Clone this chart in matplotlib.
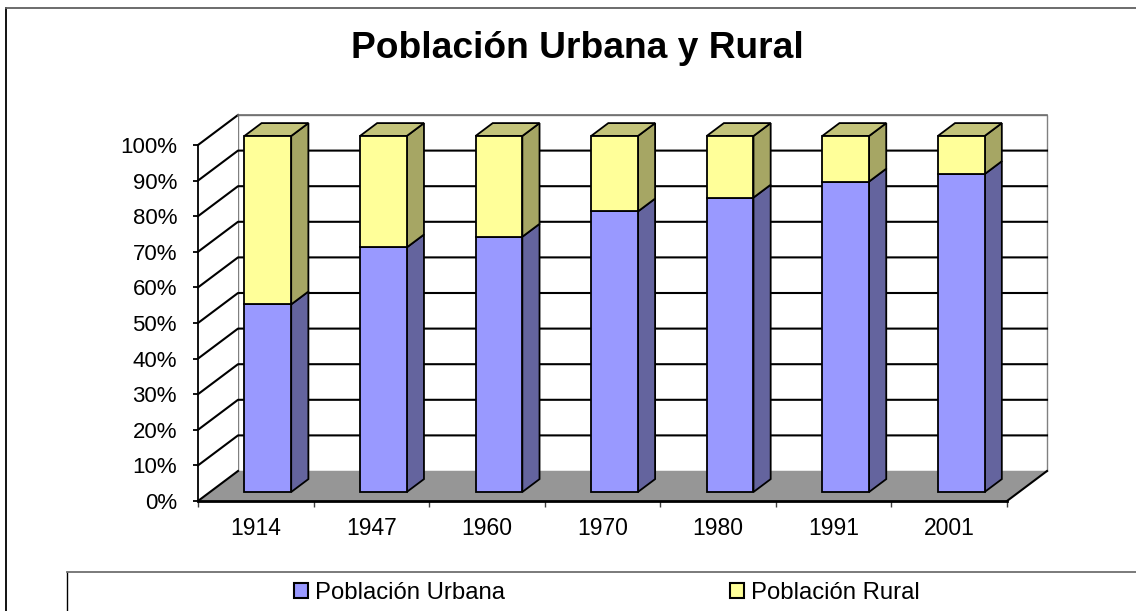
import matplotlib
matplotlib.use('Agg')
import matplotlib.pyplot as plt
from matplotlib.patches import Polygon, Patch
from matplotlib.lines import Line2D

# ---------------- data ----------------
years = ['1914', '1947', '1960', '1970', '1980', '1991', '2001']
urbana = [52.7, 68.7, 71.7, 78.8, 82.7, 87.2, 89.3]
rural = [47.3, 31.3, 28.3, 21.2, 17.3, 12.8, 10.7]
y_ticks = [0, 10, 20, 30, 40, 50, 60, 70, 80, 90, 100]
y_labels = ['0%', '10%', '20%', '30%', '40%', '50%', '60%', '70%', '80%', '90%', '100%']
title = 'Población Urbana y Rural'
series_names = ['Población Urbana', 'Población Rural']

# ---------------- style ----------------
plt.rcParams['font.family'] = ['Liberation Sans', 'DejaVu Sans']
URB_FRONT, URB_SIDE = '#9999FF', '#64649E'
RUR_FRONT, RUR_SIDE, RUR_TOP = '#FFFF99', '#A6A664', '#C3C37A'
FLOOR = '#969696'

W, H = 1136, 611
fig = plt.figure(figsize=(W / 100, H / 100), dpi=100)
fig.patch.set_facecolor('white')

# front plane of the 3D box
ax = fig.add_axes([198 / W, (H - 501) / H, 809 / W, 356 / H])
n = len(years)
ax.set_xlim(0, n)
ax.set_ylim(0, 100)
ax.patch.set_visible(False)
for s in ['top', 'right']:
    ax.spines[s].set_visible(False)
ax.spines['left'].set_linewidth(1.3)
ax.spines['bottom'].set_linewidth(2.0)
ax.spines['left'].set_zorder(6)
ax.spines['bottom'].set_zorder(6)

# depth offsets (in data units)
DX = 40 / (809 / n)
DY = 30 / 3.56
D0, D1 = 0.30, 0.73
BW = 0.405

# back wall and left wall
ax.add_patch(Polygon([(DX, DY), (n + DX, DY), (n + DX, 100 + DY), (DX, 100 + DY)],
                     closed=True, facecolor='white', edgecolor='#808080', lw=1.0,
                     clip_on=False, zorder=0))
ax.add_patch(Polygon([(0, 0), (DX, DY), (DX, 100 + DY), (0, 100)], closed=True,
                     facecolor='white', edgecolor='none', clip_on=False, zorder=0))

# gridlines
for v in y_ticks:
    if v == 0:
        ax.plot([0, DX], [0, DY], color='black', lw=1.5, clip_on=False, zorder=3)
    elif v == 100:
        ax.plot([0, DX], [v, v + DY], color='black', lw=1.5, clip_on=False, zorder=1)
        ax.plot([DX, n + DX], [v + DY, v + DY], color='#707070', lw=1.2, clip_on=False, zorder=1)
    else:
        ax.plot([0, DX, n + DX], [v, v + DY, v + DY], color='black', lw=1.5,
                clip_on=False, zorder=1)

# floor
ax.add_patch(Polygon([(0, 0), (n, 0), (n + DX, DY), (DX, DY)], closed=True,
                     facecolor=FLOOR, edgecolor='none', clip_on=False, zorder=2))
ax.plot([n, n + DX], [0, DY], color='black', lw=1.5, clip_on=False, zorder=3)

# bars
xc = [i + 0.5 + D0 * DX for i in range(n)]
yo = D0 * DY
ddx = (D1 - D0) * DX
ddy = (D1 - D0) * DY
rural_bottom = [yo + u for u in urbana]

for i in range(n):
    xr = xc[i] + BW / 2
    xl = xc[i] - BW / 2
    u = urbana[i]
    top = u + rural[i]
    # side faces
    ax.add_patch(Polygon([(xr, yo), (xr + ddx, yo + ddy), (xr + ddx, yo + u + ddy), (xr, yo + u)],
                         closed=True, facecolor=URB_SIDE, edgecolor='black', lw=1.3,
                         clip_on=False, zorder=4))
    ax.add_patch(Polygon([(xr, yo + u), (xr + ddx, yo + u + ddy), (xr + ddx, yo + top + ddy),
                          (xr, yo + top)], closed=True, facecolor=RUR_SIDE, edgecolor='black',
                         lw=1.3, clip_on=False, zorder=4))
    # top face
    ax.add_patch(Polygon([(xl, yo + top), (xr, yo + top), (xr + ddx, yo + top + ddy),
                          (xl + ddx, yo + top + ddy)], closed=True, facecolor=RUR_TOP,
                         edgecolor='black', lw=1.3, clip_on=False, zorder=4))

ax.bar(xc, urbana, bottom=yo, width=BW, color=URB_FRONT, edgecolor='black', lw=1.3,
       zorder=5, clip_on=False)
ax.bar(xc, rural, bottom=rural_bottom, width=BW, color=RUR_FRONT, edgecolor='black', lw=1.3,
       zorder=5, clip_on=False)

# ticks
ax.set_yticks(y_ticks)
ax.set_yticklabels(y_labels, fontsize=16)
ax.tick_params(axis='y', direction='out', length=3.6, width=1.3, pad=11.5, color='black')
ax.set_xticks(range(n + 1))
ax.set_xticklabels([''] * (n + 1))
ax.tick_params(axis='x', which='major', direction='out', length=4.5, width=1.0, color='#404040')
ax.set_xticks([i + 0.5 for i in range(n)], minor=True)
ax.set_xticklabels(years, minor=True, fontsize=16.5)
ax.tick_params(axis='x', which='minor', length=0, pad=11.5)

# title
fig.text(577.5 / W, 1 - 58 / H, title, ha='center', va='baseline', fontsize=26.7,
         fontweight='bold')

# chart border (top & left)
fig.add_artist(Line2D([6 / W, 6 / W], [0, 1 - 8 / H], color='black', lw=1.3))
fig.add_artist(Line2D([6 / W, 1], [1 - 8 / H, 1 - 8 / H], color='#606060', lw=1.3))
# legend border (top & left)
fig.add_artist(Line2D([67 / W, 67 / W], [0, 1 - 572 / H], color='black', lw=1.0))
fig.add_artist(Line2D([67 / W, 1], [1 - 572 / H, 1 - 572 / H], color='#707070', lw=1.3))

handles = [Patch(facecolor=URB_FRONT, edgecolor='black', lw=1.5, label=series_names[0]),
           Patch(facecolor=RUR_FRONT, edgecolor='black', lw=1.5, label=series_names[1])]
fs = 17.2
fig.legend(handles=handles, loc='center', bbox_to_anchor=(607 / W, 1 - 593 / H), ncol=2,
           frameon=False, fontsize=fs, handlelength=0.6, handleheight=0.6,
           handletextpad=0.3, columnspacing=9.4, borderpad=0, borderaxespad=0)

fig.savefig('out.png', dpi=100, facecolor='white')
